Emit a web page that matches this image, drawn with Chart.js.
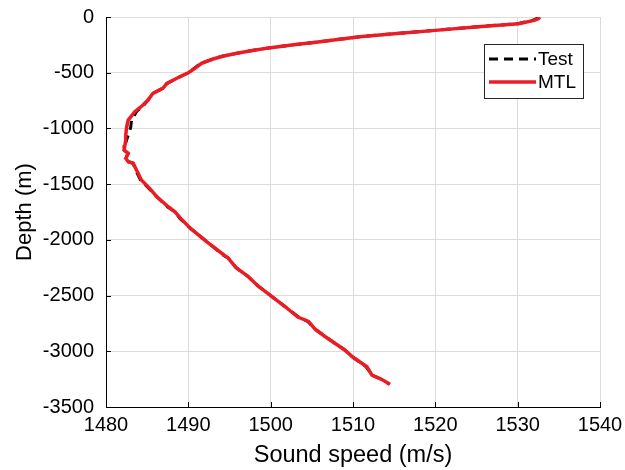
<!DOCTYPE html>
<html>
<head>
<meta charset="utf-8">
<script src="https://cdn.jsdelivr.net/npm/chart.js@4"></script>
<style>
  html, body { margin: 0; padding: 0; background: #fff; }
  #wrap { width: 625px; height: 470px; }
</style>
</head>
<body>
<div id="wrap"><canvas id="chart-profile" width="625" height="470"></canvas></div>
<script>
// depth samples (m) shared by both profiles
const depth = [0, -15, -30, -60, -85, -120, -150, -177, -200, -222, -250, -275, -300, -326, -350, -377,
    -416, -461, -500, -550, -596, -640, -685, -745, -790, -850, -925, -990, -1060, -1104, -1150, -1194,
    -1224, -1268, -1299, -1313, -1373, -1463, -1538, -1615, -1705, -1750, -1810, -1900, -2020, -2140,
    -2160, -2250, -2325, -2416, -2500, -2596, -2693, -2732, -2801, -2867, -2928, -2988, -3054, -3139,
    -3214, -3253, -3295];

// sound speed (m/s)
const speedTest = [1532.6, 1532.3, 1531.8, 1530.0, 1525.5, 1520.0, 1515.0, 1510.8, 1508.3, 1506.0, 1502.7,
    1500.0, 1497.7, 1495.9, 1494.2, 1493.0, 1491.5, 1490.7, 1490.0, 1488.6, 1487.4, 1486.9, 1485.7,
    1485.1, 1484.6, 1483.7, 1483.1, 1483.0, 1482.7, 1482.5, 1482.3, 1482.2, 1482.7, 1482.4, 1482.7,
    1483.3, 1483.6, 1484.2, 1485.2, 1486.2, 1487.5, 1488.4, 1489.0, 1490.3, 1492.3, 1494.3, 1494.8,
    1495.8, 1497.2, 1498.5, 1500.0, 1501.7, 1503.4, 1504.5, 1505.4, 1506.6, 1507.8, 1509.0, 1510.0,
    1511.6, 1512.3, 1513.5, 1514.4];
const speedMTL = [1532.7, 1532.5, 1532.0, 1530.1, 1525.6, 1520.0, 1515.0, 1510.8, 1508.4, 1506.0, 1502.8,
    1500.0, 1497.8, 1495.9, 1494.3, 1493.0, 1491.6, 1490.8, 1490.0, 1488.6, 1487.4, 1486.9, 1485.7,
    1485.1, 1484.5, 1483.5, 1482.7, 1482.5, 1482.4, 1482.4, 1482.3, 1482.2, 1482.7, 1482.4, 1482.7,
    1483.3, 1483.7, 1484.3, 1485.3, 1486.2, 1487.6, 1488.4, 1489.1, 1490.3, 1492.3, 1494.4, 1494.8,
    1495.8, 1497.2, 1498.5, 1500.0, 1501.7, 1503.3, 1504.6, 1505.4, 1506.6, 1507.8, 1509.0, 1510.0,
    1511.7, 1512.3, 1513.5, 1514.5];

const xTicks = [1480, 1490, 1500, 1510, 1520, 1530, 1540];
const yTicks = [0, -500, -1000, -1500, -2000, -2500, -3000, -3500];

const FONT = "Arial, 'Liberation Sans', sans-serif";
const RED = "#ec1c24";

const toPoints = (xs) => xs.map((v, i) => ({ x: v, y: depth[i] }));

// small inward ticks like matlab
const innerTicks = {
    id: 'innerTicks',
    afterDraw(chart) {
        const { ctx, chartArea, scales } = chart;
        ctx.save();
        ctx.strokeStyle = '#000';
        ctx.lineWidth = 1;
        ctx.beginPath();
        xTicks.forEach(v => {
            const px = Math.round(scales.x.getPixelForValue(v)) + 0.5;
            ctx.moveTo(px, chartArea.bottom);
            ctx.lineTo(px, chartArea.bottom - 5);
        });
        yTicks.forEach(v => {
            const py = Math.round(scales.y.getPixelForValue(v)) + 0.5;
            ctx.moveTo(chartArea.left, py);
            ctx.lineTo(chartArea.left + 5, py);
        });
        ctx.stroke();
        ctx.restore();
    }
};

// legend box inside the plot, top right
const boxLegend = {
    id: 'boxLegend',
    afterDraw(chart) {
        const { ctx } = chart;
        const x0 = 484, y0 = 44, w = 99, h = 54;
        ctx.save();
        ctx.fillStyle = '#fff';
        ctx.fillRect(x0, y0, w, h);
        ctx.strokeStyle = '#262626';
        ctx.lineWidth = 1;
        ctx.strokeRect(x0 + 0.5, y0 + 0.5, w, h);

        const items = [chart.data.datasets[1], chart.data.datasets[0]];
        const rows = [59, 82];
        items.forEach((ds, i) => {
            ctx.beginPath();
            ctx.strokeStyle = ds.borderColor;
            ctx.lineWidth = ds.borderWidth;
            ctx.setLineDash(ds.borderDash || []);
            ctx.moveTo(489, rows[i]);
            ctx.lineTo(536, rows[i]);
            ctx.stroke();
            ctx.setLineDash([]);
            ctx.fillStyle = '#000';
            ctx.font = "19px " + FONT;
            ctx.textBaseline = 'middle';
            ctx.fillText(ds.label, 538, rows[i] + 1);
        });
        ctx.restore();
    }
};

const ctxProfile = document.getElementById("chart-profile");

new Chart(ctxProfile, {
    type: "scatter",
    data: {
        datasets: [
            {
                label: "MTL",
                data: toPoints(speedMTL),
                showLine: true,
                borderColor: RED,
                borderWidth: 3.5,
                pointRadius: 0,
                tension: 0,
            },
            {
                label: "Test",
                data: toPoints(speedTest),
                showLine: true,
                borderColor: "#000",
                borderWidth: 3,
                borderDash: [9, 6],
                pointRadius: 0,
                tension: 0,
            },
        ],
    },
    options: {
        responsive: false,
        animation: false,
        layout: { padding: { top: 17, right: 25, left: 0, bottom: 0 } },
        plugins: {
            legend: { display: false },
            tooltip: { enabled: false },
        },
        scales: {
            x: {
                type: "linear",
                min: 1480,
                max: 1540,
                afterBuildTicks: (scale) => { scale.ticks = xTicks.map(v => ({ value: v })); },
                afterFit: (scale) => {
                    scale.height = 63;
                    scale.paddingLeft = 0;
                    scale.paddingRight = 0;
                },
                ticks: {
                    color: "#000",
                    padding: 6,
                    font: { family: FONT, size: 20 },
                    maxRotation: 0,
                    callback: (v) => String(v),
                },
                grid: { color: "#dcdcdc", drawTicks: false },
                border: { color: "#000", width: 1 },
                title: {
                    display: true,
                    text: "Sound speed (m/s)",
                    color: "#000",
                    font: { family: FONT, size: 23.5 },
                    padding: 0,
                },
            },
            y: {
                type: "linear",
                min: -3500,
                max: 0,
                afterBuildTicks: (scale) => { scale.ticks = yTicks.map(v => ({ value: v })); },
                afterFit: (scale) => {
                    scale.width = 106;
                    scale.paddingTop = 0;
                    scale.paddingBottom = 0;
                },
                ticks: {
                    color: "#000",
                    padding: 12,
                    font: { family: FONT, size: 20 },
                    callback: (v) => String(v),
                },
                grid: { color: "#dcdcdc", drawTicks: false },
                border: { color: "#000", width: 1 },
                title: {
                    display: true,
                    text: "Depth (m)",
                    color: "#000",
                    font: { family: FONT, size: 22 },
                    padding: { top: 12, bottom: 0 },
                },
            },
        },
    },
    plugins: [innerTicks, boxLegend],
});
</script>
</body>
</html>
